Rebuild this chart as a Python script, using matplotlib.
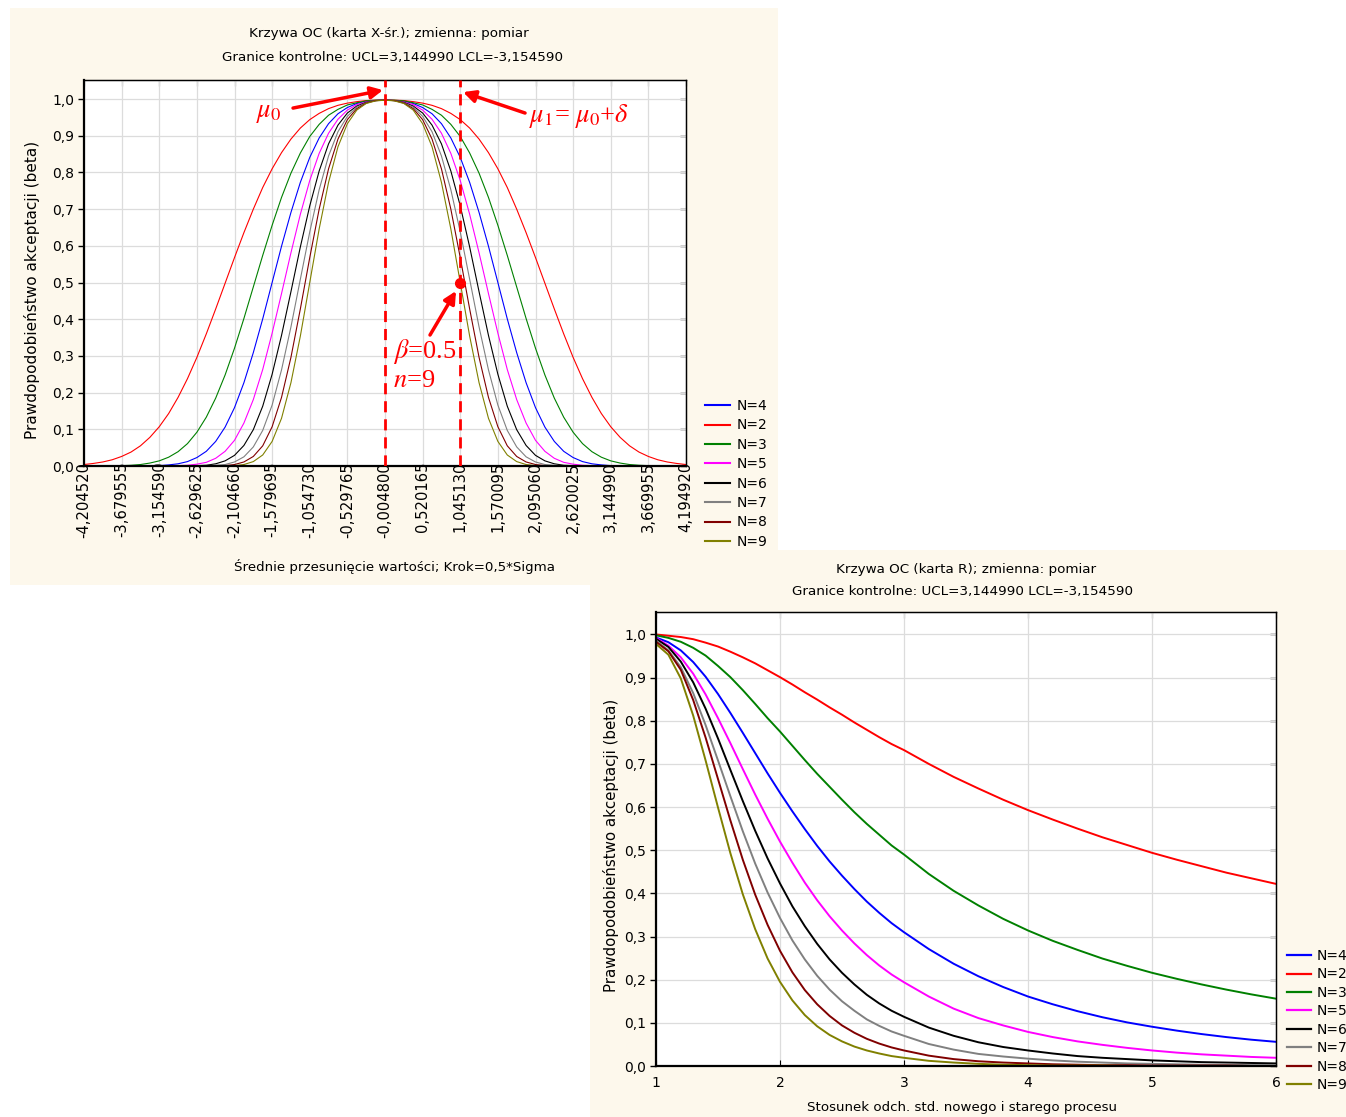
import numpy as np
import matplotlib
matplotlib.use('Agg')
import matplotlib.pyplot as plt
from matplotlib.patches import Rectangle
from matplotlib.lines import Line2D

plt.rcParams['mathtext.fontset'] = 'stix'
plt.rcParams['font.family'] = ['DejaVu Sans']

# ======================= DATA =======================
SERIES = [4, 2, 3, 5, 6, 7, 8, 9]          # legend order (sample size N)
COLORS = {4: '#0000ff', 2: '#ff0000', 3: '#008000', 5: '#ff00ff',
          6: '#000000', 7: '#808080', 8: '#800000', 9: '#808000'}

# --- X-bar chart OC curve: mean shift (x) vs. acceptance probability (values x1000) ---
SHIFT = [-4.20452, -4.07328, -3.94204, -3.81080, -3.679555, -3.54831, -3.41707, -3.28583,
         -3.15459, -3.02335, -2.89211, -2.76087, -2.629625, -2.49838, -2.36714, -2.23590,
         -2.10466, -1.97342, -1.84218, -1.71094, -1.579695, -1.44845, -1.31721, -1.18597,
         -1.05473, -0.92349, -0.79225, -0.66101, -0.529765, -0.39852, -0.26728, -0.13604,
         -0.0048,
         0.126441, 0.25768, 0.38892, 0.520165, 0.65141, 0.78265, 0.91389, 1.04513,
         1.17637, 1.30761, 1.43885, 1.570095, 1.70134, 1.83258, 1.96382, 2.09506,
         2.22630, 2.35754, 2.48878, 2.620025, 2.75127, 2.88251, 3.01375, 3.14499,
         3.27623, 3.40747, 3.53871, 3.669955, 3.80120, 3.93244, 4.06368, 4.19492]

XBAR_N4 = [0, 0, 0, 0, 0, 0, 0, 1, 1, 3, 6, 12, 23, 40, 67, 106, 159, 227, 309, 401, 500, 599, 691, 773, 841, 894, 933, 960, 977, 988, 994, 996,
           997,
           996, 994, 988, 977, 960, 933, 894, 841, 773, 691, 599, 500, 401, 309, 227, 159, 106, 67, 40, 23, 12, 6, 3, 1, 1, 0, 0, 0, 0, 0, 0, 0]
XBAR_N2 = [4, 7, 11, 17, 26, 38, 55, 78, 107, 143, 187, 238, 296, 360, 428, 498, 568, 636, 700, 759, 810, 854, 891, 921, 944, 961, 974, 983, 989, 993, 996, 997,
           997,
           997, 996, 993, 989, 983, 974, 961, 944, 921, 891, 854, 810, 759, 700, 636, 568, 498, 428, 360, 296, 238, 187, 143, 107, 78, 55, 38, 26, 17, 11, 7, 4]
XBAR_N3 = [0, 0, 0, 1, 1, 2, 4, 8, 14, 24, 39, 61, 92, 133, 185, 248, 321, 402, 488, 574, 656, 732, 798, 853, 898, 931, 956, 972, 984, 990, 995, 997,
           997,
           997, 995, 990, 984, 972, 956, 931, 898, 853, 798, 732, 656, 574, 488, 402, 321, 248, 185, 133, 92, 61, 39, 24, 14, 8, 4, 2, 1, 1, 0, 0, 0]
XBAR_N5 = [0, 0, 0, 0, 0, 0, 0, 0, 0, 0, 1, 2, 5, 10, 21, 40, 70, 117, 181, 263, 362, 470, 581, 686, 778, 852, 907, 945, 970, 985, 992, 996,
           997,
           996, 992, 985, 970, 945, 907, 852, 778, 686, 581, 470, 362, 263, 181, 117, 70, 40, 21, 10, 5, 2, 1, 0, 0, 0, 0, 0, 0, 0, 0, 0, 0]
XBAR_N6 = [0, 0, 0, 0, 0, 0, 0, 0, 0, 0, 0, 0, 1, 2, 6, 14, 29, 56, 99, 163, 250, 356, 475, 597, 709, 804, 878, 929, 962, 981, 991, 996,
           997,
           996, 991, 981, 962, 929, 878, 804, 709, 597, 475, 356, 250, 163, 99, 56, 29, 14, 6, 2, 1, 0, 0, 0, 0, 0, 0, 0, 0, 0, 0, 0, 0]
XBAR_N7 = [0, 0, 0, 0, 0, 0, 0, 0, 0, 0, 0, 0, 0, 1, 2, 4, 11, 25, 52, 97, 166, 262, 379, 509, 638, 753, 845, 911, 953, 978, 990, 996,
           997,
           996, 990, 978, 953, 911, 845, 753, 638, 509, 379, 262, 166, 97, 52, 25, 11, 4, 2, 1, 0, 0, 0, 0, 0, 0, 0, 0, 0, 0, 0, 0, 0]
XBAR_N8 = [0, 0, 0, 0, 0, 0, 0, 0, 0, 0, 0, 0, 0, 0, 0, 1, 4, 11, 26, 55, 107, 187, 296, 428, 568, 700, 810, 891, 944, 974, 989, 996,
           997,
           996, 989, 974, 944, 891, 810, 700, 568, 428, 296, 187, 107, 55, 26, 11, 4, 1, 0, 0, 0, 0, 0, 0, 0, 0, 0, 0, 0, 0, 0, 0, 0]
XBAR_N9 = [0, 0, 0, 0, 0, 0, 0, 0, 0, 0, 0, 0, 0, 0, 0, 0, 1, 4, 12, 30, 67, 130, 227, 354, 500, 646, 773, 870, 933, 970, 988, 995,
           997,
           995, 988, 970, 933, 870, 773, 646, 500, 354, 227, 130, 67, 30, 12, 4, 1, 0, 0, 0, 0, 0, 0, 0, 0, 0, 0, 0, 0, 0, 0, 0, 0]
XBAR = {4: XBAR_N4, 2: XBAR_N2, 3: XBAR_N3, 5: XBAR_N5, 6: XBAR_N6, 7: XBAR_N7, 8: XBAR_N8, 9: XBAR_N9}

XTICKS = [-4.20452, -3.679555, -3.15459, -2.629625, -2.10466, -1.579695, -1.05473, -0.529765, -0.0048,
          0.520165, 1.04513, 1.570095, 2.09506, 2.620025, 3.14499, 3.669955, 4.19492]
XLABELS = ['-4,204520', '-3,679555', '-3,154590', '-2,629625', '-2,104660', '-1,579695', '-1,054730', '-0,529765', '-0,004800',
           '0,520165', '1,045130', '1,570095', '2,095060', '2,620025', '3,144990', '3,669955', '4,194920']

# annotation values
MU0 = -0.0048
MU1 = 1.04513
BETA_AT_MU1 = 0.5

# --- R chart OC curve: ratio of std. deviations vs. acceptance probability ---
RATIO = [1.0, 1.1, 1.2, 1.3, 1.4, 1.5, 1.6, 1.7, 1.8, 1.9, 2.0, 2.1, 2.2, 2.3, 2.4, 2.5, 2.6, 2.7, 2.8, 2.9, 3.0,
         3.2, 3.4, 3.6, 3.8, 4.0, 4.2, 4.4, 4.6, 4.8, 5.0, 5.2, 5.4, 5.6, 5.8, 6.0]
R_N4 = [.993, .982, .963, .936, .902, .862, .818, .772, .725, .678, .633, .590, .549, .510, .474, .441, .410, .381, .355, .331, .310,
        .271, .237, .208, .183, .161, .143, .127, .113, .101, .091, .082, .074, .067, .061, .056]
R_N2 = [1.0, .997, .994, .989, .981, .972, .960, .947, .933, .917, .901, .884, .866, .849, .831, .814, .796, .779, .762, .746, .732,
        .700, .670, .643, .617, .593, .571, .550, .530, .512, .494, .478, .463, .448, .435, .422]
R_N3 = [.998, .992, .983, .969, .951, .927, .901, .871, .839, .806, .775, .742, .709, .677, .647, .617, .588, .561, .536, .511, .490,
        .445, .406, .372, .341, .314, .290, .269, .249, .232, .216, .202, .189, .177, .166, .156]
R_N5 = [.992, .974, .947, .909, .861, .806, .748, .688, .629, .573, .520, .471, .425, .384, .347, .314, .284, .257, .233, .212, .194,
        .161, .133, .111, .094, .079, .067, .057, .049, .042, .036, .031, .027, .024, .021, .019]
R_N6 = [.990, .971, .937, .889, .828, .759, .686, .614, .545, .481, .423, .370, .324, .283, .247, .216, .189, .165, .145, .128, .114,
        .089, .070, .055, .044, .036, .029, .023, .019, .016, .013, .011, .009, .008, .007, .006]
R_N7 = [.986, .963, .924, .864, .790, .708, .625, .544, .469, .402, .343, .291, .247, .209, .177, .150, .128, .108, .093, .080, .070,
        .051, .038, .028, .022, .017, .013, .010, .008, .006, .005, .004, .003, .003, .002, .002]
R_N8 = [.983, .961, .918, .848, .761, .665, .569, .478, .397, .327, .267, .217, .176, .143, .116, .094, .077, .063, .052, .043, .036,
        .024, .016, .011, .008, .006, .004, .003, .002, .002, .001, .001, .001, .001, 0.0, 0.0]
R_N9 = [.978, .953, .898, .812, .708, .599, .493, .398, .317, .249, .195, .152, .118, .092, .072, .057, .045, .036, .029, .023, .019,
        .012, .008, .005, .003, .002, .001, .001, .001, 0.0, 0.0, 0.0, 0.0, 0.0, 0.0, 0.0]
RCHART = {4: R_N4, 2: R_N2, 3: R_N3, 5: R_N5, 6: R_N6, 7: R_N7, 8: R_N8, 9: R_N9}

YT = [0.0, 0.1, 0.2, 0.3, 0.4, 0.5, 0.6, 0.7, 0.8, 0.9, 1.0]
YL = ['0,0', '0,1', '0,2', '0,3', '0,4', '0,5', '0,6', '0,7', '0,8', '0,9', '1,0']

# ======================= FIGURE =======================
W, H = 1346, 1117
fig = plt.figure(figsize=(W / 100, H / 100), dpi=100)
fig.patch.set_facecolor('white')
BG = '#fdf8ec'
fig.add_artist(Rectangle((10 / W, 1 - 585 / H), 768 / W, 577 / H, transform=fig.transFigure,
                         fc=BG, ec='none', zorder=-10))
fig.add_artist(Rectangle((590 / W, 0), 756 / W, 567 / H, transform=fig.transFigure,
                         fc=BG, ec='none', zorder=-10))


def style(ax):
    ax.set_facecolor('white')
    ax.grid(True, color='#dcdcdc', lw=0.9)
    ax.set_axisbelow(True)
    ax.spines['left'].set_linewidth(1.6)
    ax.spines['bottom'].set_linewidth(1.6)
    ax.spines['top'].set_linewidth(1.0)
    ax.spines['right'].set_linewidth(1.0)
    ax.set_yticks(YT)
    ax.set_yticklabels(YL)
    ax.tick_params(axis='y', direction='out', length=4, width=1, pad=3, labelsize=10)
    sy = ax.secondary_yaxis('right')
    sy.set_yticks(YT)
    sy.set_yticklabels([])
    sy.tick_params(direction='in', length=4, width=1)


# ---------------- X-bar chart ----------------
ax1 = fig.add_axes([84 / W, 1 - 466 / H, 602 / W, 386 / H])
style(ax1)
for N in SERIES:
    ax1.plot(SHIFT, np.array(XBAR[N]) / 1000.0, color=COLORS[N], lw=0.8)
ax1.set_xlim(XTICKS[0], XTICKS[-1])
ax1.set_ylim(0, 1.052)
ax1.set_xticks(XTICKS)
ax1.set_xticklabels(XLABELS, rotation=90)
ax1.tick_params(axis='x', length=0, pad=-3, labelsize=10.6)
sx = ax1.secondary_xaxis('top')
sx.set_xticks(XTICKS)
sx.set_xticklabels([])
sx.tick_params(direction='in', length=4)

ax1.axvline(MU0, color='red', lw=2, ls=(0, (4, 2.5)), zorder=4)
ax1.axvline(MU1, color='red', lw=2, ls=(0, (4, 2.5)), zorder=4)
ax1.plot([MU1], [BETA_AT_MU1], 'o', color='red', ms=7, zorder=5)
ap = dict(arrowstyle='-|>', color='red', lw=2.5, mutation_scale=18, shrinkA=0, shrinkB=0)
ax1.annotate('', xy=(MU0 - 0.028, 1.0245), xytext=(-1.288, 0.9755), arrowprops=ap, annotation_clip=False)
ax1.annotate('', xy=(MU1 + 0.039, 1.019), xytext=(1.949, 0.962), arrowprops=ap, annotation_clip=False)
ax1.annotate('', xy=(MU1 - 0.059, BETA_AT_MU1 - 0.023), xytext=(0.6232, 0.357), arrowprops=ap, annotation_clip=False)
sf = ['Liberation Serif']
ax1.text(-1.80, 0.951, r'$\mu_0$', color='red', fontsize=19, family=sf, va='baseline')
ax1.text(2.0, 0.937, r'$\mu_1$= $\mu_0$+$\delta$', color='red', fontsize=19, family=sf, va='baseline')
ax1.text(0.108, 0.294, r'$\beta$=0.5', color='red', fontsize=19, family=sf, va='baseline')
ax1.text(0.108, 0.215, r'$n$=9', color='red', fontsize=19, family=sf, va='baseline')

h1 = [Line2D([], [], color=COLORS[N], lw=1.5) for N in SERIES]
fig.legend(h1, [f'N={N}' for N in SERIES], loc='upper left', bbox_to_anchor=(705 / W, 1 - 399 / H),
           frameon=False, borderpad=0, borderaxespad=0, handlelength=1.8, handletextpad=0.5,
           labelspacing=0.39, fontsize=10)

fig.text(389 / W, 1 - 33 / H, 'Krzywa OC (karta X-śr.); zmienna: pomiar', ha='center', va='center', fontsize=9.7)
fig.text(393 / W, 1 - 58 / H, 'Granice kontrolne: UCL=3,144990 LCL=-3,154590', ha='center', va='center', fontsize=9.7)
fig.text(394 / W, 1 - 567 / H, 'Średnie przesunięcie wartości; Krok=0,5*Sigma', ha='center', va='center', fontsize=9.6)
fig.text(32 / W, 1 - 290 / H, 'Prawdopodobieństwo akceptacji (beta)', ha='center', va='center', rotation=90, fontsize=11)

# ---------------- R chart ----------------
ax2 = fig.add_axes([656 / W, 1 - 1066 / H, 620 / W, 454 / H])
style(ax2)
for N in SERIES:
    ax2.plot(RATIO, RCHART[N], color=COLORS[N], lw=1.4)
ax2.set_xlim(1, 6)
ax2.set_ylim(0, 1.052)
ax2.set_xticks([1, 2, 3, 4, 5, 6])
ax2.set_xticklabels(['1', '2', '3', '4', '5', '6'])
ax2.tick_params(axis='x', direction='in', length=4, pad=7, labelsize=10)
sx2 = ax2.secondary_xaxis('top')
sx2.set_xticks([1, 2, 3, 4, 5, 6])
sx2.set_xticklabels([])
sx2.tick_params(direction='in', length=4)
h2 = [Line2D([], [], color=COLORS[N], lw=1.6) for N in SERIES]
fig.legend(h2, [f'N={N}' for N in SERIES], loc='upper left', bbox_to_anchor=(1287 / W, 1 - 949 / H),
           frameon=False, borderpad=0, borderaxespad=0, handlelength=1.73, handletextpad=0.43,
           labelspacing=0.32, fontsize=10)
fig.text(966 / W, 1 - 570 / H, 'Krzywa OC (karta R); zmienna: pomiar', ha='center', va='center', fontsize=9.7)
fig.text(962 / W, 1 - 592 / H, 'Granice kontrolne: UCL=3,144990 LCL=-3,154590', ha='center', va='center', fontsize=9.7)
fig.text(962 / W, 1 - 1107 / H, 'Stosunek odch. std. nowego i starego procesu', ha='center', va='center', fontsize=9.6)
fig.text(611 / W, 1 - 845 / H, 'Prawdopodobieństwo akceptacji (beta)', ha='center', va='center', rotation=90, fontsize=10.8)

fig.savefig('out.png', dpi=100, facecolor='white')
